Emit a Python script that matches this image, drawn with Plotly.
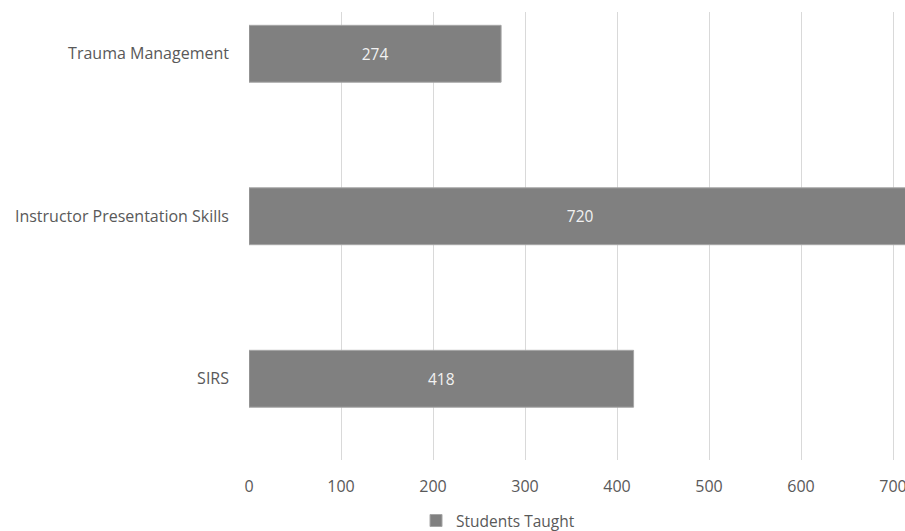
import plotly.graph_objects as go

categories = ["SIRS", "Instructor Presentation Skills", "Trauma Management"]
values = [418, 720, 274]
series_name = "Students Taught"
x_ticks = [0, 100, 200, 300, 400, 500, 600, 700]

FONT = "Open Sans"
GRAY_TEXT = "#595959"

fig = go.Figure()
fig.add_trace(go.Bar(
    y=categories,
    x=values,
    orientation="h",
    name=series_name,
    width=0.35,
    marker=dict(color="#808080", line=dict(color="#a6a6a6", width=1)),
    text=[str(v) for v in values],
    textposition="inside",
    insidetextanchor="middle",
    textfont=dict(family=FONT, size=15.5, color="#f2f2f2"),
    constraintext="none",
    cliponaxis=True,
    showlegend=True,
))

fig.update_layout(
    width=905,
    height=531,
    margin=dict(l=249, r=0, t=12, b=71, autoexpand=False),
    paper_bgcolor="white",
    plot_bgcolor="white",
    font=dict(family=FONT, size=16, color=GRAY_TEXT),
    showlegend=True,
    legend=dict(
        orientation="h",
        x=0.2546, xanchor="left",
        y=-0.136, yanchor="middle",
        font=dict(family=FONT, size=15.5, color=GRAY_TEXT),
        itemwidth=30,
    ),
    xaxis=dict(
        range=[0, 713],
        tickvals=x_ticks,
        ticktext=[str(t) for t in x_ticks],
        showgrid=True,
        gridcolor="#d9d9d9",
        gridwidth=1,
        zeroline=False,
        showline=False,
        ticks="",
        ticklabelstandoff=15,
        ticklabeloverflow="allow",
        automargin=False,
        tickfont=dict(family=FONT, size=16, color=GRAY_TEXT),
        fixedrange=True,
    ),
    yaxis=dict(
        range=[-0.5, 2.257],
        showgrid=False,
        zeroline=False,
        showline=False,
        ticks="",
        ticklabelstandoff=19,
        automargin=False,
        tickfont=dict(family=FONT, size=16, color=GRAY_TEXT),
        fixedrange=True,
    ),
)

fig.write_html("out.html")
